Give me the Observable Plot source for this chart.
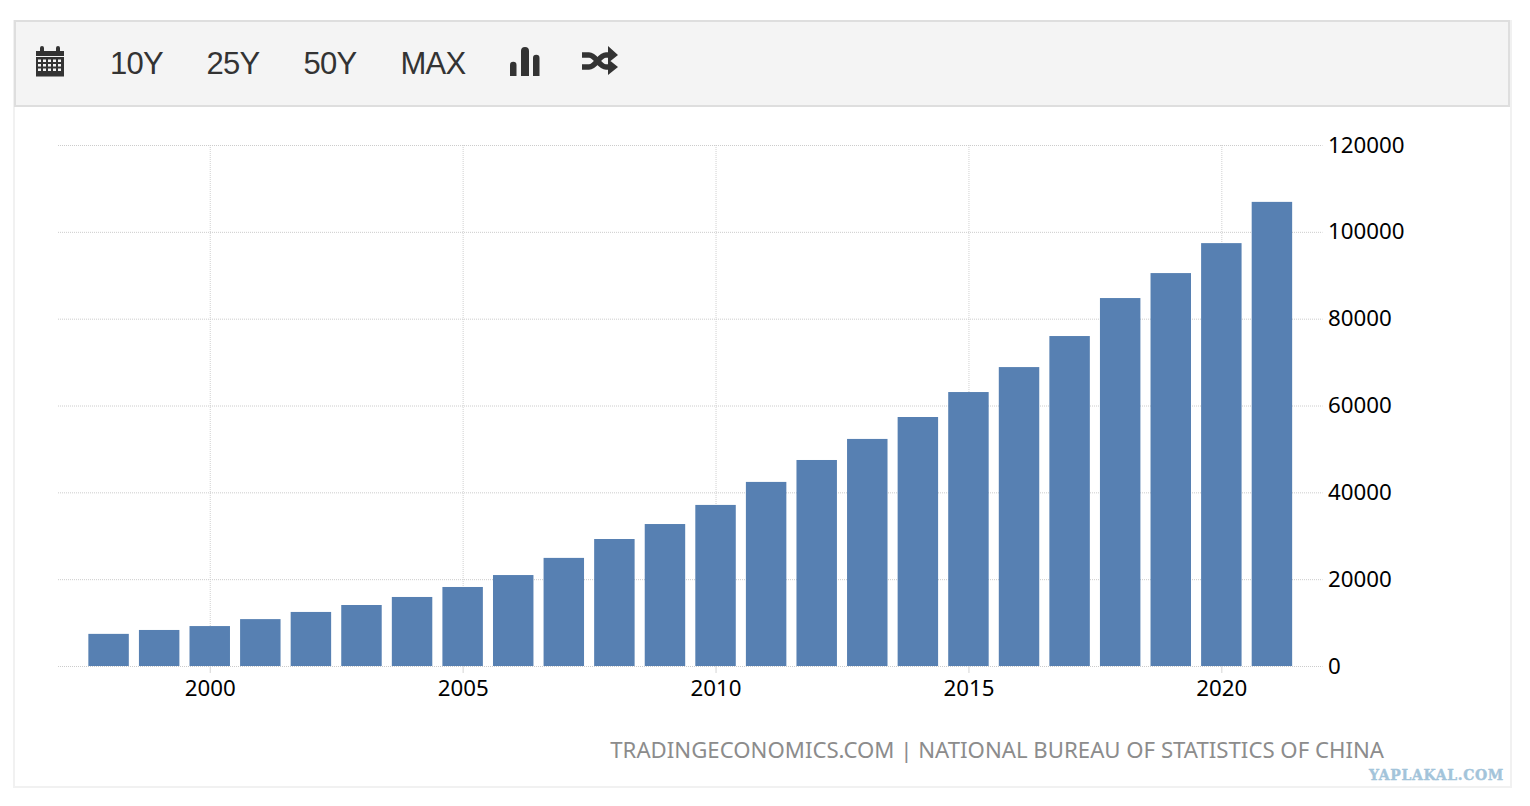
<!DOCTYPE html>
<html>
<head>
<meta charset="utf-8">
<script src="https://cdn.jsdelivr.net/npm/d3@7"></script>
<script src="https://cdn.jsdelivr.net/npm/@observablehq/plot@0.6"></script>
<style>
html,body{margin:0;padding:0;background:#fff;width:1530px;height:806px;overflow:hidden}
#panel{position:absolute;left:13px;top:20px;width:1495px;height:766px;border:2px solid #f1f1f1;border-top:none}
#toolbar{position:absolute;left:14px;top:20px;width:1492px;height:83px;background:#f4f4f4;border:2px solid #dedede}
.btn{position:absolute;top:41.500px;font:31px/44px "Liberation Sans",sans-serif;color:#333;letter-spacing:-.8px}
.icon{position:absolute}
#chart{position:absolute;left:0;top:107px}
#source{position:absolute;right:146px;top:733px;font:22.2px/34px "Noto Sans",sans-serif;color:#8c8c8c;white-space:nowrap}
#mark{position:absolute;right:26px;top:766px;font:bold 14px/18px "DejaVu Serif",serif;letter-spacing:.65px;-webkit-text-stroke:.4px #a3c4da;color:#a3c4da;white-space:nowrap}
</style>
</head>
<body>
<div id="panel"></div>
<div id="toolbar"></div>
<svg class="icon" style="left:36px;top:46px" width="28" height="31" viewBox="0 0 28 31">
  <path fill="#333" d="M0 5H4V2a2 2 0 0 1 4 0V5H20V2a2 2 0 0 1 4 0V5H28V10H0Z"/>
  <rect y="11" width="28" height="19.500" fill="#333"/>
  <g fill="#f4f4f4">
    <path d="M2 13.500h3v2.500h-3zM7 13.500h3v2.500h-3zM12 13.500h3v2.500h-3zM17 13.500h3v2.500h-3zM22 13.500h3v2.500h-3zM2 18h3v2.500h-3zM7 18h3v2.500h-3zM12 18h3v2.500h-3zM17 18h3v2.500h-3zM22 18h3v2.500h-3zM2 22.500h3v2.500h-3zM7 22.500h3v2.500h-3zM12 22.500h3v2.500h-3zM17 22.500h3v2.500h-3zM22 22.500h3v2.500h-3z"/>
  </g>
</svg>
<div class="btn" style="left:110px">10Y</div>
<div class="btn" style="left:206.500px">25Y</div>
<div class="btn" style="left:303.500px">50Y</div>
<div class="btn" style="left:400.500px">MAX</div>
<svg class="icon" style="left:510px;top:47px" width="30" height="30" viewBox="0 0 30 30">
  <path fill="#333" d="M0 29V18a3 3 0 0 1 6.500 0V29ZM11 29V4a4 4 0 0 1 8 0V29ZM23 29V11a3 3 0 0 1 6.500 0V29Z"/>
</svg>
<svg class="icon" style="left:581px;top:45px" width="37" height="31" viewBox="0 0 37 31">
  <path fill="none" stroke="#333" stroke-width="5.500" d="M1 10H8C15 10 18 22 25 22H30M1 22H8C15 22 18 10 25 10H30"/>
  <path fill="#333" d="M27 1L37 10L27 18ZM27 14L37 22L27 30Z"/>
</svg>
<div id="chart"></div>
<div id="source">TRADINGECONOMICS.COM | NATIONAL BUREAU OF STATISTICS OF CHINA</div>
<div id="mark">YAPLAKAL.COM</div>
<script>
const years = [1998,1999,2000,2001,2002,2003,2004,2005,2006,2007,2008,2009,2010,2011,2012,2013,2014,2015,2016,2017,2018,2019,2020,2021];
const values = [7400,8300,9200,10800,12450,14050,15900,18200,20950,24900,29250,32700,37100,42400,47450,52300,57350,63100,68850,76000,84750,90500,97400,106900];
const xTicks = [2000,2005,2010,2015,2020];
const yTicks = [0,20000,40000,60000,80000,100000,120000];
const rows = years.map((year,i)=>({year,value:values[i]}));
const halfBar = 0.4;

const chart = Plot.plot({
  width:1530, height:600,
  marginTop:38, marginBottom:41, marginLeft:58, marginRight:207.500,
  style:{background:"transparent",fontFamily:"'Noto Sans',sans-serif",overflow:"visible"},
  x:{domain:[1997,2022]},
  y:{domain:[0,120000]},
  marks:[
    Plot.ruleX(xTicks,{x:d=>d,stroke:"#d0d0d0",strokeDasharray:"1,1"}),
    Plot.ruleY(yTicks,{y:d=>d,stroke:"#cccccc",strokeDasharray:"1,1"}),
    Plot.rectY(rows,{x1:d=>d.year-halfBar,x2:d=>d.year+halfBar,y1:0,y2:"value",fill:"#5780b2",inset:0}),
    Plot.axisX({ticks:xTicks,tickFormat:d=>String(d),label:null,fontSize:22.3,tickSize:7,tickPadding:7,stroke:"#d4d4d4",fill:"#000"}),
    Plot.axisY({anchor:"right",ticks:yTicks,tickFormat:d=>String(d),label:null,fontSize:22.3,tickSize:0,tickPadding:5,fill:"#000"})
  ]
});
document.getElementById("chart").appendChild(chart);
</script>
</body>
</html>
